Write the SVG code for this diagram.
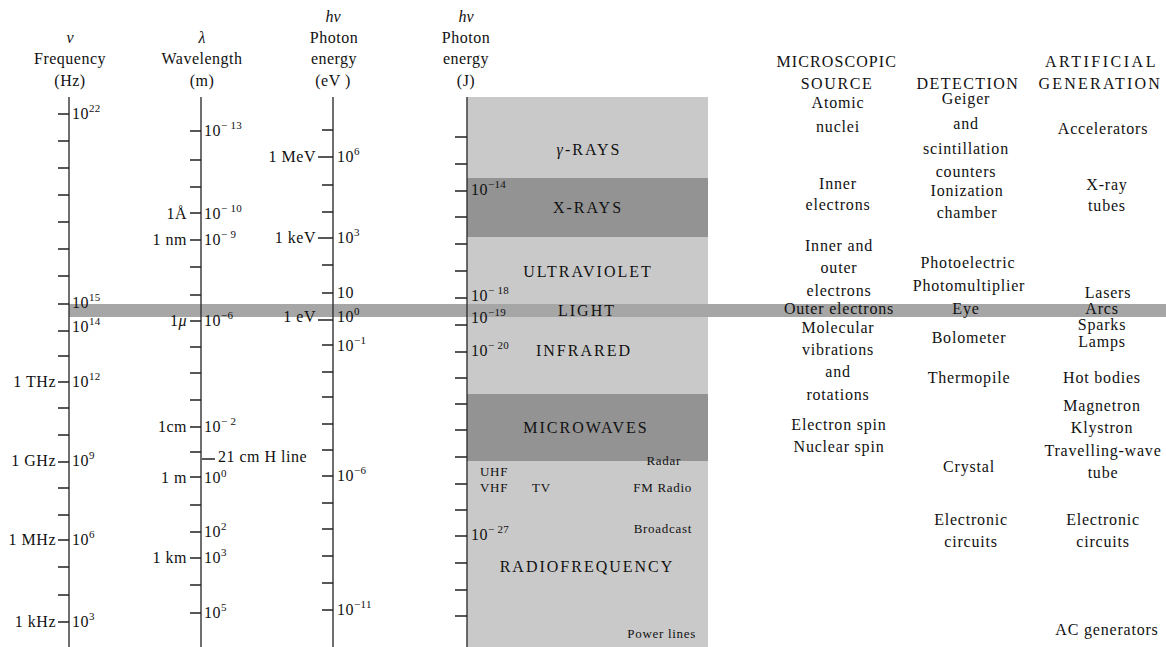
<svg xmlns="http://www.w3.org/2000/svg" width="1166" height="647" viewBox="0 0 1166 647">
<style>
text{font-family:"Liberation Serif","Times New Roman",serif;font-size:16px;fill:#111}
.ax{letter-spacing:0.5px}
.e{text-anchor:end}
.m{text-anchor:middle}
.col{letter-spacing:0.8px;text-anchor:middle}
.hd{letter-spacing:1.6px;text-anchor:middle}
.band{letter-spacing:2px;text-anchor:middle}
.sm{font-size:13px;letter-spacing:0.7px}
.sup{font-size:11px;letter-spacing:0.3px}
.i{font-style:italic}
.axis{stroke:#333;stroke-width:1.4;fill:none}
.tick{stroke:#222;stroke-width:1.3;fill:none}
</style>
<rect width="1166" height="647" fill="#fff"/>

<!-- shaded spectrum box -->
<g id="spectrum-box">
<rect x="467" y="97" width="241" height="550" fill="#c9c9c9"/>
<rect x="467" y="178" width="241" height="59" fill="#939393"/>
<rect x="467" y="394" width="241" height="67" fill="#939393"/>
</g>
<g id="light-band">
<rect x="69" y="304" width="1097" height="13" fill="#a6a6a6"/>
</g>

<!-- axes -->
<g id="axis-frequency">
<path class="axis" d="M69 97V647"/>
<path class="tick" d="M58 114h11M58 141h11M58 168h11M58 195h11M58 222h11M58 249h11M58 276h11M58 304h11M58 331h11M58 356h11M58 382h11M58 408h11M58 435h11M58 462h11M58 488h11M58 515h11M58 540h11M58 567h11M58 595h11M58 622h11"/>
<text class="m" x="70" y="43"><tspan class="i">ν</tspan></text>
<text class="m ax" x="70" y="64">Frequency</text>
<text class="m ax" x="70" y="86">(Hz)</text>
<text class="ax" x="72" y="119">10<tspan class="sup" dy="-7">22</tspan></text>
<text class="ax" x="72" y="308">10<tspan class="sup" dy="-7">15</tspan></text>
<text class="ax" x="72" y="332">10<tspan class="sup" dy="-7">14</tspan></text>
<text class="ax e" x="56" y="387">1 THz</text>
<text class="ax" x="72" y="387">10<tspan class="sup" dy="-7">12</tspan></text>
<text class="ax e" x="56" y="466">1 GHz</text>
<text class="ax" x="72" y="466">10<tspan class="sup" dy="-7">9</tspan></text>
<text class="ax e" x="56" y="545">1 MHz</text>
<text class="ax" x="72" y="545">10<tspan class="sup" dy="-7">6</tspan></text>
<text class="ax e" x="56" y="627">1 kHz</text>
<text class="ax" x="72" y="627">10<tspan class="sup" dy="-7">3</tspan></text>
</g>

<g id="axis-wavelength">
<path class="axis" d="M201 97V647"/>
<path class="tick" d="M190 131h11M190 160h11M190 187h11M190 213h11M190 240h11M190 267h11M190 295h11M190 321h11M190 347h11M190 373h11M190 400h11M190 427h11M190 452h11M190 477h11M190 505h11M190 532h11M190 558h11M190 585h11M190 613h11M202 459h13"/>
<text class="m" x="202" y="43"><tspan class="i">λ</tspan></text>
<text class="m ax" x="202" y="64">Wavelength</text>
<text class="m ax" x="202" y="86">(m)</text>
<text class="ax" x="204" y="136">10<tspan class="sup" dy="-7">− 13</tspan></text>
<text class="ax e" x="187" y="219">1Å</text>
<text class="ax" x="204" y="219">10<tspan class="sup" dy="-7">− 10</tspan></text>
<text class="ax e" x="187" y="245">1 nm</text>
<text class="ax" x="204" y="245">10<tspan class="sup" dy="-7">− 9</tspan></text>
<text class="ax e" x="187" y="326">1<tspan class="i">μ</tspan></text>
<text class="ax" x="204" y="326">10<tspan class="sup" dy="-7">−6</tspan></text>
<text class="ax e" x="187" y="432">1cm</text>
<text class="ax" x="204" y="432">10<tspan class="sup" dy="-7">− 2</tspan></text>
<text class="ax" x="218" y="462">21 cm H line</text>
<text class="ax e" x="187" y="483">1 m</text>
<text class="ax" x="204" y="483">10<tspan class="sup" dy="-6">0</tspan></text>
<text class="ax" x="204" y="537">10<tspan class="sup" dy="-7">2</tspan></text>
<text class="ax e" x="187" y="563">1 km</text>
<text class="ax" x="204" y="563">10<tspan class="sup" dy="-7">3</tspan></text>
<text class="ax" x="204" y="618">10<tspan class="sup" dy="-7">5</tspan></text>
</g>

<g id="axis-energy-ev">
<path class="axis" d="M333 97V647"/>
<path class="tick" d="M322 130h11M318 157h15M322 185h11M322 212h11M318 238h15M322 265h11M322 293h11M318 320h15M322 345h11M322 372h11M322 397h11M322 424h11M322 450h11M322 476h11M322 503h11M322 529h11M322 556h11M322 583h11M322 610h11"/>
<text class="m i" x="333" y="22">hν</text>
<text class="m ax" x="334" y="43">Photon</text>
<text class="m ax" x="334" y="64">energy</text>
<text class="m ax" x="333" y="86">(eV )</text>
<text class="ax e" x="316" y="162">1 MeV</text>
<text class="ax" x="337" y="162">10<tspan class="sup" dy="-7">6</tspan></text>
<text class="ax e" x="316" y="243">1 keV</text>
<text class="ax" x="337" y="243">10<tspan class="sup" dy="-7">3</tspan></text>
<text class="ax" x="337" y="298">10</text>
<text class="ax e" x="316" y="322">1 eV</text>
<text class="ax" x="337" y="322">10<tspan class="sup" dy="-7">0</tspan></text>
<text class="ax" x="337" y="351">10<tspan class="sup" dy="-7">−1</tspan></text>
<text class="ax" x="337" y="481">10<tspan class="sup" dy="-7">−6</tspan></text>
<text class="ax" x="337" y="615">10<tspan class="sup" dy="-7">−11</tspan></text>
</g>

<g id="axis-energy-j">
<path class="axis" d="M467 97V647"/>
<path class="tick" d="M455 137h12M455 164h12M455 191h12M455 217h12M455 244h12M455 271h12M455 298h12M455 325h12M455 352h12M455 378h12M455 404h12M455 430h12M455 457h12M455 484h12M455 510h12M455 536h12M455 563h12M455 590h12M455 616h12"/>
<text class="m i" x="466" y="22">hν</text>
<text class="m ax" x="466" y="43">Photon</text>
<text class="m ax" x="466" y="64">energy</text>
<text class="m ax" x="466" y="86">(J)</text>
<text class="ax" x="471" y="195">10<tspan class="sup" dy="-7">−14</tspan></text>
<text class="ax" x="471" y="301">10<tspan class="sup" dy="-7">− 18</tspan></text>
<text class="ax" x="471" y="323">10<tspan class="sup" dy="-7">−19</tspan></text>
<text class="ax" x="471" y="356">10<tspan class="sup" dy="-7">− 20</tspan></text>
<text class="ax" x="471" y="540">10<tspan class="sup" dy="-7">− 27</tspan></text>
</g>

<!-- band names -->
<g id="band-labels">
<text class="band" x="589" y="155"><tspan class="i">γ</tspan>-RAYS</text>
<text class="band" x="588" y="213">X-RAYS</text>
<text class="band" x="588" y="277">ULTRAVIOLET</text>
<text class="band" x="587" y="316">LIGHT</text>
<text class="band" x="584" y="356">INFRARED</text>
<text class="band" x="586" y="433">MICROWAVES</text>
<text class="band" x="587" y="572">RADIOFREQUENCY</text>
<text class="sm e" x="681" y="465">Radar</text>
<text class="sm" x="480" y="476">UHF</text>
<text class="sm" x="480" y="492">VHF</text>
<text class="sm" x="532" y="492">TV</text>
<text class="sm e" x="692" y="492">FM Radio</text>
<text class="sm e" x="692" y="533">Broadcast</text>
<text class="sm e" x="696" y="638">Power lines</text>
</g>

<!-- right-hand columns -->
<g id="col-source">
<text class="hd" x="837" y="67" textLength="121" lengthAdjust="spacing">MICROSCOPIC</text>
<text class="hd" x="837" y="89">SOURCE</text>
<text class="col" x="838" y="108">Atomic</text>
<text class="col" x="838" y="132">nuclei</text>
<text class="col" x="838" y="189">Inner</text>
<text class="col" x="838" y="210">electrons</text>
<text class="col" x="839" y="251">Inner and</text>
<text class="col" x="839" y="273">outer</text>
<text class="col" x="839" y="296">electrons</text>
<text class="col" x="839" y="314">Outer electrons</text>
<text class="col" x="838" y="333">Molecular</text>
<text class="col" x="838" y="355">vibrations</text>
<text class="col" x="838" y="377">and</text>
<text class="col" x="838" y="400">rotations</text>
<text class="col" x="839" y="430">Electron spin</text>
<text class="col" x="839" y="452">Nuclear spin</text>
</g>

<g id="col-detection">
<text class="hd" x="968" y="89" textLength="103" lengthAdjust="spacing">DETECTION</text>
<text class="col" x="966" y="104">Geiger</text>
<text class="col" x="966" y="129">and</text>
<text class="col" x="966" y="154">scintillation</text>
<text class="col" x="966" y="177">counters</text>
<text class="col" x="967" y="196">Ionization</text>
<text class="col" x="967" y="218">chamber</text>
<text class="col" x="968" y="268">Photoelectric</text>
<text class="col" x="969" y="291">Photomultiplier</text>
<text class="col" x="966" y="314">Eye</text>
<text class="col" x="969" y="343">Bolometer</text>
<text class="col" x="969" y="383">Thermopile</text>
<text class="col" x="969" y="472">Crystal</text>
<text class="col" x="971" y="525">Electronic</text>
<text class="col" x="971" y="547">circuits</text>
</g>

<g id="col-generation">
<text class="hd" x="1101" y="67" textLength="112" lengthAdjust="spacing">ARTIFICIAL</text>
<text class="hd" x="1100" y="89" textLength="123" lengthAdjust="spacing">GENERATION</text>
<text class="col" x="1103" y="134">Accelerators</text>
<text class="col" x="1107" y="190">X-ray</text>
<text class="col" x="1107" y="211">tubes</text>
<text class="col" x="1108" y="298">Lasers</text>
<text class="col" x="1102" y="314">Arcs</text>
<text class="col" x="1102" y="330">Sparks</text>
<text class="col" x="1102" y="347">Lamps</text>
<text class="col" x="1102" y="383">Hot bodies</text>
<text class="col" x="1102" y="411">Magnetron</text>
<text class="col" x="1102" y="433">Klystron</text>
<text class="col" x="1103" y="456">Travelling-wave</text>
<text class="col" x="1103" y="478">tube</text>
<text class="col" x="1103" y="525">Electronic</text>
<text class="col" x="1103" y="547">circuits</text>
<text class="col" x="1107" y="635">AC generators</text>
</g>
</svg>
